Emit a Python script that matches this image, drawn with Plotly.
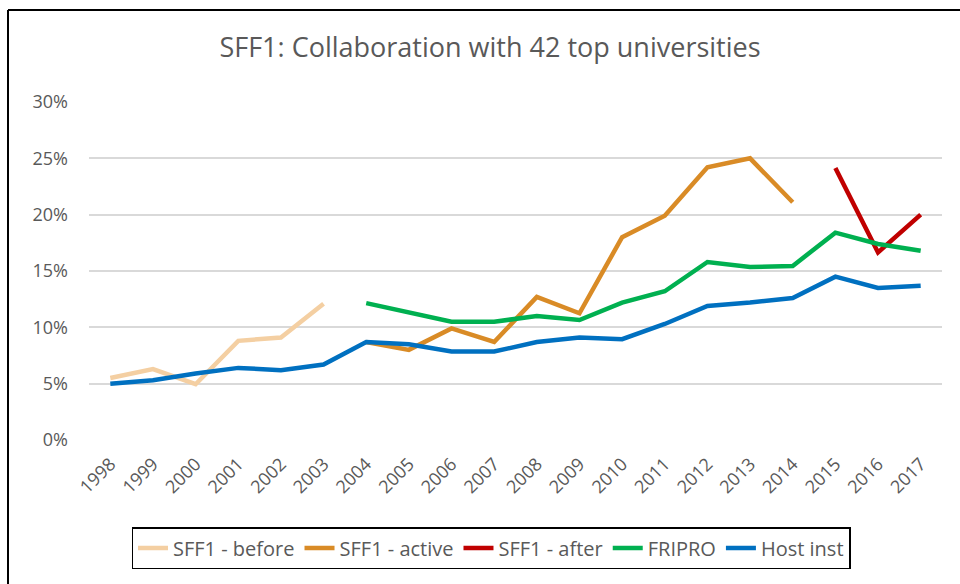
import plotly.graph_objects as go

years = list(range(1998, 2018))
year_labels = [str(y) for y in years]

sff1_before_years = [1998, 1999, 2000, 2001, 2002, 2003]
sff1_before = [0.055, 0.063, 0.0495, 0.088, 0.091, 0.121]

sff1_active_years = [2004, 2005, 2006, 2007, 2008, 2009, 2010, 2011, 2012, 2013, 2014]
sff1_active = [0.087, 0.080, 0.099, 0.087, 0.127, 0.1125, 0.180, 0.199, 0.242, 0.250, 0.211]

sff1_after_years = [2015, 2016, 2017]
sff1_after = [0.2415, 0.1665, 0.200]

fripro_years = list(range(2004, 2018))
fripro = [0.1215, 0.1135, 0.105, 0.105, 0.110, 0.1065, 0.122, 0.132, 0.158, 0.1535, 0.1545, 0.184, 0.174, 0.168]

host_years = list(range(1998, 2018))
host = [0.050, 0.053, 0.059, 0.064, 0.062, 0.067, 0.087, 0.085, 0.0785, 0.0785, 0.087, 0.091, 0.0895,
        0.103, 0.119, 0.122, 0.126, 0.145, 0.135, 0.137]

y_ticks = [0, 0.05, 0.10, 0.15, 0.20, 0.25, 0.30]

series = [
    ("SFF1 - before", sff1_before_years, sff1_before, "#F4CFA2"),
    ("SFF1 - active", sff1_active_years, sff1_active, "#D98B26"),
    ("SFF1 - after", sff1_after_years, sff1_after, "#C00000"),
    ("FRIPRO", fripro_years, fripro, "#00B050"),
    ("Host inst", host_years, host, "#0070C0"),
]

FONT = "Open Sans"
GREY = "#595959"

fig = go.Figure()
for name, xs, ys, col in series:
    fig.add_trace(go.Scatter(x=xs, y=ys, name=name, mode="lines",
                             line=dict(color=col, width=4.5)))

fig.update_layout(
    width=960, height=584,
    paper_bgcolor="white", plot_bgcolor="white",
    margin=dict(l=89, r=18, t=102, b=144, autoexpand=False),
    title=dict(text="SFF1: Collaboration with 42 top universities",
               x=490 / 960, xanchor="center", xref="container",
               y=1 - 48 / 584, yanchor="middle", yref="container",
               font=dict(family=FONT, size=27, color=GREY)),
    font=dict(family=FONT, color=GREY),
    showlegend=True,
    legend=dict(orientation="h", xref="container", yref="container",
                x=491 / 960, xanchor="center", y=1 - 527 / 584, yanchor="top",
                bordercolor="black", borderwidth=1.5, bgcolor="white",
                font=dict(family=FONT, size=20, color=GREY),
                itemwidth=30, tracegroupgap=0),
    xaxis=dict(range=[1997.5, 2017.5], tickmode="array", tickvals=years,
               ticktext=year_labels, tickangle=-45, showgrid=False,
               zeroline=False, showline=False, ticks="",
               ticklabelstandoff=9,
               tickfont=dict(family=FONT, size=18, color=GREY)),
    yaxis=dict(range=[0, 0.30], tickmode="array", tickvals=y_ticks,
               tickformat=".0%", showgrid=True, gridcolor="#D9D9D9",
               gridwidth=1.5, zeroline=False, showline=False, ticks="",
               ticklabelstandoff=20,
               tickfont=dict(family=FONT, size=18, color=GREY)),
    shapes=[
        dict(type="line", xref="paper", yref="paper", x0=-81 / 853, x1=1.1,
             y0=1 + 92 / 338, y1=1 + 92 / 338, line=dict(color="black", width=2)),
        dict(type="line", xref="paper", yref="paper", x0=-81 / 853, x1=-81 / 853,
             y0=1 + 92 / 338, y1=-0.5, line=dict(color="black", width=2)),
    ],
)

fig.write_html("out.html", config={"displayModeBar": False},
               post_script="document.body.style.margin='0';")
